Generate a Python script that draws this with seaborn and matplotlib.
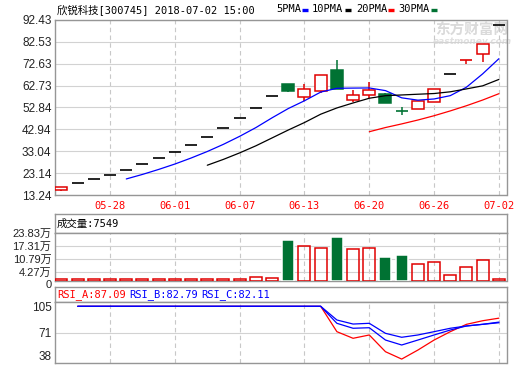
import numpy as np
import pandas as pd
import matplotlib
matplotlib.use("Agg")
import matplotlib.pyplot as plt
from matplotlib.lines import Line2D
from matplotlib.transforms import ScaledTranslation
import seaborn as sns

# ---------------- data ----------------
dates = ['05-23', '05-24', '05-25', '05-28', '05-29', '05-30', '05-31', '06-01',
         '06-04', '06-05', '06-06', '06-07', '06-08', '06-11', '06-12', '06-13',
         '06-14', '06-15', '06-19', '06-20', '06-21', '06-22', '06-25', '06-26',
         '06-27', '06-28', '06-29', '07-02']
opens = [15.64, 18.53, 20.47, 22.13, 24.54, 27.10, 29.83, 32.68, 35.70, 39.30,
         43.40, 47.90, 52.40, 57.86, 63.56, 57.40, 60.40, 69.75, 56.05, 58.30,
         58.76, 51.20, 51.98, 55.15, 68.08, 74.13, 76.98, 89.96]
highs = [16.86, 18.53, 20.47, 22.13, 24.54, 27.10, 29.83, 32.68, 35.70, 39.30,
         43.40, 47.90, 52.40, 57.86, 63.56, 63.56, 67.50, 74.27, 60.70, 64.30,
         59.20, 53.16, 55.73, 61.30, 68.08, 74.13, 81.60, 89.96]
lows = [14.97, 18.53, 20.47, 22.13, 24.54, 27.10, 29.83, 32.68, 35.70, 39.30,
        43.40, 47.90, 52.40, 57.86, 59.67, 55.74, 59.50, 61.03, 55.30, 56.96,
        54.97, 49.27, 51.98, 55.15, 68.08, 72.33, 73.50, 89.96]
closes = [16.86, 18.53, 20.47, 22.13, 24.54, 27.10, 29.83, 32.68, 35.70, 39.30,
          43.40, 47.90, 52.40, 57.86, 60.26, 61.00, 67.50, 61.03, 58.30, 60.57,
          54.97, 51.20, 55.73, 61.02, 68.08, 74.13, 81.37, 89.96]
volumes = [8200, 8200, 8200, 8200, 8200, 8200, 8200, 8200, 8200, 8200,
           8200, 8200, 19000, 13600, 202200, 173600, 164500, 214600, 159100, 164500,
           116000, 126700, 84500, 94400, 28100, 67500, 105200, 7549]
nan = np.nan
rsi_a = [nan, 100, 100, 100, 100, 100, 100, 100, 100, 100, 100, 100, 100, 100, 100, 100,
         100, 72.4, 65.2, 68.8, 50.6, 42.6, 52.4, 63.3, 72.4, 80.4, 84.3, 87.09]
rsi_b = [nan, 100, 100, 100, 100, 100, 100, 100, 100, 100, 100, 100, 100, 100, 100, 100,
         100, 81.5, 76.1, 76.7, 63.3, 57.9, 63.3, 68.8, 74.2, 78.6, 80.4, 82.79]
rsi_c = [nan, 100, 100, 100, 100, 100, 100, 100, 100, 100, 100, 100, 100, 100, 100, 100,
         100, 85.1, 80.7, 81.5, 70.6, 66.3, 68.8, 72.4, 76.1, 78.6, 80.4, 82.11]

price_ticks = [13.24, 23.14, 33.04, 42.94, 52.84, 62.73, 72.63, 82.53, 92.43]
vol_ticks = [0, 4.27, 10.79, 17.31, 23.83]          # 万
rsi_ticks = [38, 71, 105]
date_ticks = ['05-28', '06-01', '06-07', '06-13', '06-20', '06-26', '07-02']
title = "欣锐科技[300745] 2018-07-02 15:00"
ma_names = ['5PMA', '10PMA', '20PMA', '30PMA']
ma_periods = [5, 10, 20, 30]

# ---------------- styling ----------------
RED = '#ff0000'
CRED = '#e00000'
GREEN = '#007233'
BLUE = '#0000ff'
GRID = '#d2d2d2'
VGRID = '#c8c8c8'
FRAME = '#969696'
MA_COLORS = [BLUE, 'black', RED, GREEN]
MONO = ['DejaVu Sans Mono', 'Noto Sans CJK SC']

sns.set_theme(style='white')
plt.rcParams['font.family'] = ['Liberation Sans', 'Noto Sans CJK SC']
plt.rcParams['axes.unicode_minus'] = False

W, H = 520, 365
fig = plt.figure(figsize=(W / 100, H / 100), dpi=100)
fig.patch.set_facecolor('white')


def fx(px):
    return px / W


def fy(py):
    return 1 - py / H


def box(x0, y0, x1, y1):
    return [fx(x0), fy(y1), fx(x1) - fx(x0), fy(y0) - fy(y1)]


L, R = 55, 506.5
ax = fig.add_axes(box(L, 20, R, 195))
ax_vh = fig.add_axes(box(L, 214, R, 232.7))
ax_v = fig.add_axes(box(L, 232.7, R, 280.7))
ax_rh = fig.add_axes(box(L, 287.3, R, 301.7))
ax_r = fig.add_axes(box(L, 301.7, R, 363.3))

df = pd.DataFrame(dict(day=np.arange(len(dates)), date=dates, open=opens, high=highs,
                       low=lows, close=closes, vol=np.array(volumes) / 1e4))
prev = df['close'].shift(1).fillna(df['open'])
df['kind'] = np.where(df['close'] > df['open'], 'up',
                      np.where(df['close'] < df['open'], 'down',
                               np.where(df['close'] >= prev, 'up', 'down')))
tick_pos = [dates.index(d) for d in date_ticks]
xlim = (-0.4, len(dates) - 0.53)
hw = 0.37

for a in (ax, ax_vh, ax_v, ax_rh, ax_r):
    a.set_facecolor('white')
    for s in a.spines.values():
        s.set_color(FRAME)
        s.set_linewidth(1.0)
        s.set_visible(True)

# ---------------- main candlestick panel ----------------
for r in df.itertuples():
    i = r.day
    if r.open == r.close == r.high == r.low:
        ax.hlines(r.close, i - hw, i + hw, color='black', lw=1.2, zorder=3)
        continue
    col = CRED if r.kind == 'up' else GREEN
    ax.vlines(i, r.low, r.high, color=col, lw=1.1, zorder=2)
    if r.close == r.open:
        ax.hlines(r.close, i - hw, i + hw, color=col, lw=1.2, zorder=3)
    elif r.close > r.open:
        ax.bar(i, r.close - r.open, bottom=r.open, width=2 * hw, facecolor='white',
               edgecolor=col, lw=1.1, zorder=3)
    else:
        ax.bar(i, r.open - r.close, bottom=r.close, width=2 * hw, facecolor=col,
               edgecolor=col, lw=1.1, zorder=3)

for n, c in zip(ma_periods, MA_COLORS):
    ma = df['close'].rolling(n).mean()
    if ma.notna().sum() > 1:
        sns.lineplot(x=df['day'], y=ma, color=c, lw=0.9, ax=ax, errorbar=None, zorder=4)

ax.set_xlim(*xlim)
ax.set_ylim(price_ticks[0], price_ticks[-1])
ax.set_yticks(price_ticks)
ax.set_yticklabels([f"{t:.2f}" for t in price_ticks])
ax.set_xticks(tick_pos)
ax.set_xticklabels(date_ticks, color=RED, family=MONO, fontsize=7.5)
ax.tick_params(axis='x', length=0, pad=4.5)
ax.tick_params(axis='y', direction='in', length=3, color=FRAME, labelsize=8.5,
               pad=2.5, labelcolor='#222222')
ax.grid(axis='y', color=GRID, lw=0.8, ls='-')
ax.grid(axis='x', color=VGRID, lw=0.8, ls=(0, (4, 3)))
ax.set_axisbelow(True)
ax.set_xlabel('')
ax.set_ylabel('')
# watermark
ax.text(fx(472), fy(30), '东方财富网', transform=fig.transFigure, ha='center', va='center',
        fontsize=10.5, color='#dadada', fontweight='bold', family='Noto Sans CJK SC', zorder=0)
ax.text(fx(472), fy(41), 'eastmoney.com', transform=fig.transFigure, ha='center', va='center',
        fontsize=6.5, color='#e0e0e0', fontweight='bold', style='italic',
        family='DejaVu Sans', zorder=0)

# title + legend
fig.text(fx(57), fy(9.5), title, ha='left', va='center', family=MONO, fontsize=7.5,
         color='black')
leg_x = [276, 312, 356, 398]
dash_x = [302, 345, 388, 431]
for name, c, tx, dx in zip(ma_names, MA_COLORS, leg_x, dash_x):
    fig.text(fx(tx), fy(9.5), name, ha='left', va='center', family=MONO, fontsize=7.5,
             color='black')
    fig.add_artist(Line2D([fx(dx), fx(dx + 5.5)], [fy(10), fy(10)],
                          transform=fig.transFigure, color=c, lw=2.4,
                          solid_capstyle='butt'))

# ---------------- volume panel ----------------
up = df[df['kind'] == 'up']
down = df[df['kind'] == 'down']
sns.barplot(data=up, x='day', y='vol', native_scale=True, width=0.74, fill=False,
            color=CRED, saturation=1, errorbar=None, linewidth=1.1, ax=ax_v, zorder=3)
sns.barplot(data=down, x='day', y='vol', native_scale=True, width=0.74,
            color=GREEN, saturation=1, errorbar=None, linewidth=1.1, ax=ax_v, zorder=3)
ax_v.set_xlim(*xlim)
ax_v.set_ylim(vol_ticks[0], vol_ticks[-1])
ax_v.set_yticks(vol_ticks)
ax_v.set_yticklabels(['0'] + [f"{t:.2f}万" for t in vol_ticks[1:]])
ax_v.set_xticks(tick_pos)
ax_v.set_xticklabels([])
ax_v.tick_params(axis='x', length=0)
ax_v.tick_params(axis='y', direction='in', length=3, color=FRAME, labelsize=8,
                 pad=2.5, labelcolor='#222222')
zero_lab = ax_v.get_yticklabels()[0]
zero_lab.set_transform(zero_lab.get_transform() +
                       ScaledTranslation(0, -3.5 / 100, fig.dpi_scale_trans))
ax_v.grid(axis='y', color=GRID, lw=0.8, ls='-')
ax_v.grid(axis='x', color=VGRID, lw=0.8, ls=(0, (4, 3)))
ax_v.set_axisbelow(True)
ax_v.set_xlabel('')
ax_v.set_ylabel('')

ax_vh.set_xticks([])
ax_vh.set_yticks([])
ax_vh.text(fx(57), fy(223.5), f"成交量:{volumes[-1]}", transform=fig.transFigure,
           ha='left', va='center', family=MONO, fontsize=7.5, color='black')

# ---------------- RSI panel ----------------
rsi_df = pd.DataFrame(dict(day=df['day'], A=rsi_a, B=rsi_b, C=rsi_c))
sns.lineplot(data=rsi_df, x='day', y='A', color=RED, lw=0.9, ax=ax_r, errorbar=None)
sns.lineplot(data=rsi_df, x='day', y='B', color=BLUE, lw=0.9, ax=ax_r, errorbar=None)
sns.lineplot(data=rsi_df, x='day', y='C', color=BLUE, lw=0.9, ax=ax_r, errorbar=None)
ax_r.set_xlim(*xlim)
ax_r.set_ylim(rsi_ticks[0], rsi_ticks[-1])
ax_r.set_yticks(rsi_ticks)
ax_r.set_yticklabels([str(t) for t in rsi_ticks])
labs = ax_r.get_yticklabels()
labs[0].set_va('bottom')
labs[-1].set_va('top')
ax_r.set_xticks(tick_pos)
ax_r.set_xticklabels([])
ax_r.tick_params(axis='x', length=0)
ax_r.tick_params(axis='y', direction='in', length=3, color=FRAME, labelsize=8.5,
                 pad=2.5, labelcolor='#222222')
ax_r.grid(axis='y', color=GRID, lw=0.8, ls='-')
ax_r.grid(axis='x', color=VGRID, lw=0.8, ls=(0, (4, 3)))
ax_r.set_axisbelow(True)
ax_r.set_xlabel('')
ax_r.set_ylabel('')

ax_rh.set_xticks([])
ax_rh.set_yticks([])
rsi_parts = [(f"RSI_A:{rsi_a[-1]:.2f}", RED, 57),
             (f"RSI_B:{rsi_b[-1]:.2f}", BLUE, 129),
             (f"RSI_C:{rsi_c[-1]:.2f}", BLUE, 201)]
for txt, c, x in rsi_parts:
    ax_rh.text(fx(x), fy(294.5), txt, transform=fig.transFigure, ha='left', va='center',
               family=MONO, fontsize=7.5, color=c)

fig.savefig('out.png', dpi=100, facecolor='white')
